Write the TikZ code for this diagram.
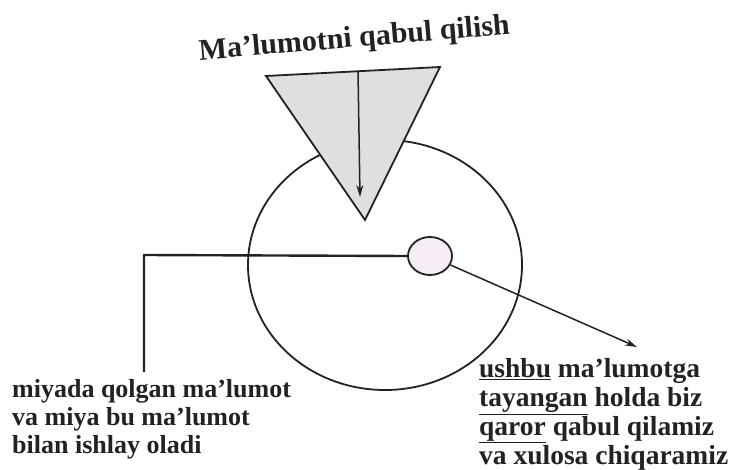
\documentclass[tikz,border=0pt]{standalone}
\usepackage{fontspec}
\setmainfont{Liberation Serif}
\usetikzlibrary{arrows.meta,shapes.geometric}
\definecolor{ink}{HTML}{222222}
\tikzset{
  ln/.style={line width=1.8pt, draw=ink},
  arr/.style={line width=1.5pt, draw=ink, -{Stealth[length=12pt,width=7pt]}},
  ltxt/.style={font=\bfseries\fontsize{26}{28}\selectfont, align=left, inner sep=0pt, text=ink},
  rtxt/.style={font=\bfseries\fontsize{27.5}{29}\selectfont, align=left, inner sep=0pt, text=ink},
}
\begin{document}
\begin{tikzpicture}[x=1pt,y=-1pt]
\useasboundingbox (0,0) rectangle (733,470);
% big circle
\node[ellipse, ln, minimum width=274pt, minimum height=250pt, inner sep=0pt] (big) at (385,265) {};
% triangle
\coordinate (tl) at (266,76);
\coordinate (tr) at (440,67);
\coordinate (tb) at (365,220);
\filldraw[ln, fill=gray!25] (tl) -- (tr) -- (tb) -- cycle;
\coordinate (atop) at (358,71);
\coordinate (abot) at (360,197);
\draw[arr] (atop) -- (abot);
% title
\node[font=\bfseries\fontsize{30}{34}\selectfont, rotate=4.8, text=ink, anchor=base, inner sep=0pt] (title) at (355,47) {Ma’lumotni qabul qilish};
% small circle
\node[ellipse, ln, fill=violet!7, minimum width=44pt, minimum height=38pt, inner sep=0pt] (sc) at (430,256) {};
% left connector
\coordinate (corner) at (144,255);
\coordinate (lend) at (144,372);
\draw[line width=2.4pt, draw=ink] (sc.west) -- (corner) -- (lend);
% right arrow
\coordinate (rtip) at (637,347);
\draw[arr] (sc) -- (rtip);
% texts
\node[ltxt, anchor=north west] (ltext) at (12,379) {miyada qolgan ma’lumot\\va miya bu ma’lumot\\bilan ishlay oladi};
\node[rtxt, anchor=north west] (rtext) at (479,358) {\underline{ushbu} ma’lumotga\\\underline{tayangan} holda biz\\\underline{qaror} qabul qilamiz\\va xulosa chiqaramiz};
\end{tikzpicture}
\end{document}
